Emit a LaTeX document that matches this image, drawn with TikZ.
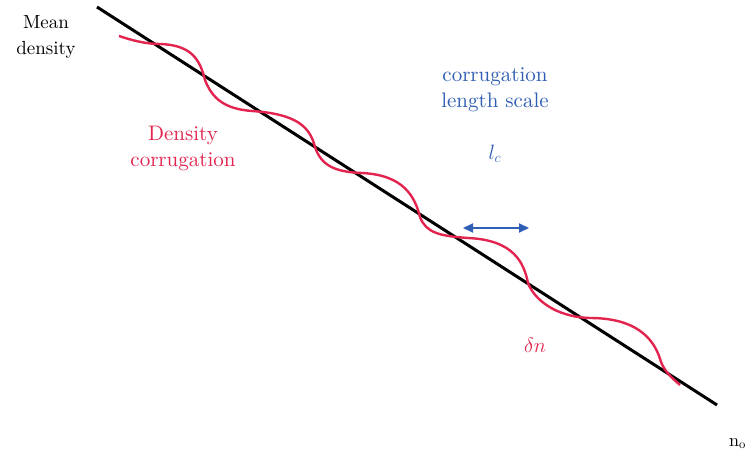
\documentclass[tikz,border=0pt]{standalone}
\usepackage{fontspec}
\newfontfamily\lmten{lmroman10-regular.otf}
\usetikzlibrary{arrows.meta}
\definecolor{corrred}{RGB}{226,36,78}
\definecolor{corrblue}{RGB}{48,94,180}
\begin{document}
\begin{tikzpicture}[x=1pt,y=-1pt,
  lbl/.style={align=center, inner sep=0pt, font=\lmten\fontsize{19}{26}\selectfont},
  redlbl/.style={align=center, inner sep=0pt, text=corrred, font=\lmten\fontsize{21}{26}\selectfont},
  bluelbl/.style={align=center, inner sep=0pt, text=corrblue, font=\lmten\fontsize{21}{26}\selectfont},
  meanline/.style={line width=3pt, black},
  corrcurve/.style={line width=2.4pt, corrred},
  scalearrow/.style={line width=2pt, corrblue, {Triangle[length=10pt,width=9pt]}-{Triangle[length=10pt,width=9pt]}}]
\useasboundingbox (0,0) rectangle (752,452);
\fill[white] (0,0) rectangle (752,452);

\coordinate (lineA) at (97,7);
\coordinate (lineB) at (717,405);
\draw[meanline] (lineA) -- (lineB);

\coordinate (S) at (119,36);
\coordinate (F0) at (160,44);
\coordinate (D0) at (205,80);
\coordinate (F1) at (252,111);
\coordinate (D1) at (315,147);
\coordinate (F2) at (362,173);
\coordinate (D2) at (420,217);
\coordinate (F3) at (468,238);
\coordinate (D3) at (528,283);
\coordinate (F4) at (590,318);
\coordinate (D4) at (661,362);
\coordinate (E) at (680,385);

\draw[corrcurve]
  (S) .. controls +(12,4) and +(-15,0) .. (F0)
      .. controls +(32,1) and +(-5,-20) .. (D0)
      .. controls +(7,18) and +(-28,-2) .. (F1)
      .. controls +(45,3) and +(-5,-20) .. (D1)
      .. controls +(6,18) and +(-28,-1) .. (F2)
      .. controls +(42,2) and +(-5,-20) .. (D2)
      .. controls +(6,16) and +(-28,-2) .. (F3)
      .. controls +(46,2) and +(-4,-20) .. (D3)
      .. controls +(6,16) and +(-35,-1) .. (F4)
      .. controls +(52,0) and +(-5,-18) .. (D4)
      .. controls +(4,10) and +(-8,-7) .. (E);

\coordinate (arrL) at (463,228);
\coordinate (arrR) at (529,228);
\draw[scalearrow] (arrL) -- (arrR);

\node[lbl] (mean) at (46,37) {Mean\\density};
\node[redlbl] (dens) at (183,148) {Density\\corrugation};
\node[bluelbl] (scale) at (495,90) {corrugation\\length scale};
\node[inner sep=0pt, text=corrblue, font=\fontsize{20}{24}\selectfont] (lc) at (495,154) {$l_c$};
\node[inner sep=0pt, text=corrred, font=\fontsize{22}{26}\selectfont] (dn) at (535,345) {$\delta n$};
\node[anchor=base west, inner sep=0pt, font=\lmten\fontsize{18}{22}\selectfont] (n0) at (729,446) {n\textsubscript{o}};
\end{tikzpicture}
\end{document}
